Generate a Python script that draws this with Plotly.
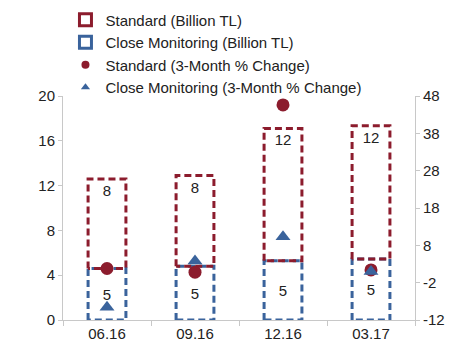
import plotly.graph_objects as go

# Quarter-end periods
periods = ["06.16", "09.16", "12.16", "03.17"]

# Loan volumes (Billion TL)
standard_bn = [8.0, 8.1, 11.8, 11.9]
close_monitoring_bn = [4.6, 4.8, 5.3, 5.45]

# 3-month percentage change
standard_pct = [1.8, 0.8, 45.6, 1.4]
close_monitoring_pct = [-8.6, 3.8, 10.3, 1.0]

# Axis ticks
left_ticks = [0, 4, 8, 12, 16, 20]
right_ticks = [-12, -2, 8, 18, 28, 38, 48]

RED = "#8c1c2d"
BLUE = "#3a639c"
TXT = "#222222"
AXIS = "#c8c8c8"
FONT = "Liberation Sans, Arial, sans-serif"

BAR_W = 0.43
xs = list(range(len(periods)))


def rect_path(bases, tops):
    px, py = [], []
    for i, (b, t) in enumerate(zip(bases, tops)):
        l, r = i - BAR_W / 2, i + BAR_W / 2
        px += [l, l, r, r, l, None]
        py += [b, t, t, b, b, None]
    return px, py


fig = go.Figure()

# Close monitoring stack segment (bottom), dashed outline
cx, cy = rect_path([0] * len(xs), close_monitoring_bn)
fig.add_trace(go.Scatter(
    x=cx, y=cy, mode="lines", showlegend=False, hoverinfo="skip",
    line=dict(color=BLUE, width=3, dash="7px,4px"),
))

# Standard stack segment (on top of close monitoring), dashed outline
tops = [c + s for c, s in zip(close_monitoring_bn, standard_bn)]
sx, sy = rect_path(close_monitoring_bn, tops)
fig.add_trace(go.Scatter(
    x=sx, y=sy, mode="lines", showlegend=False, hoverinfo="skip",
    line=dict(color=RED, width=3, dash="7px,4px"),
))

# Value labels inside each segment
fig.add_trace(go.Bar(
    x=xs, y=close_monitoring_bn, base=[0] * len(xs), width=BAR_W,
    marker=dict(color="rgba(0,0,0,0)", line=dict(width=0)),
    texttemplate="%{y:.0f}", textposition="inside", insidetextanchor="middle",
    textfont=dict(color=TXT, size=15, family=FONT), showlegend=False,
    hoverinfo="skip",
))
fig.add_trace(go.Bar(
    x=xs, y=standard_bn, base=close_monitoring_bn, width=BAR_W,
    marker=dict(color="rgba(0,0,0,0)", line=dict(width=0)),
    texttemplate="%{y:.0f}", textposition="inside", insidetextanchor="end",
    textfont=dict(color=TXT, size=15, family=FONT), showlegend=False,
    hoverinfo="skip",
))

# Percentage-change markers on the secondary axis
fig.add_trace(go.Scatter(
    x=xs, y=standard_pct, yaxis="y2", mode="markers", showlegend=False,
    name="Standard (3-Month % Change)",
    marker=dict(symbol="circle", color=RED, size=13),
))
fig.add_trace(go.Scatter(
    x=xs, y=close_monitoring_pct, yaxis="y2", mode="markers", showlegend=False,
    name="Close Monitoring (3-Month % Change)",
    marker=dict(symbol="triangle-up", color=BLUE, size=13),
))

# Legend entries with compact symbols
fig.add_trace(go.Bar(
    x=[None], y=[None], name="Standard (Billion TL)",
    marker=dict(color="white", line=dict(color=RED, width=3)),
))
fig.add_trace(go.Bar(
    x=[None], y=[None], name="Close Monitoring (Billion TL)",
    marker=dict(color="white", line=dict(color=BLUE, width=3)),
))
fig.add_trace(go.Scatter(
    x=[None], y=[None], mode="markers", name="Standard (3-Month % Change)",
    marker=dict(symbol="circle", color=RED, size=8),
))
fig.add_trace(go.Scatter(
    x=[None], y=[None], mode="markers",
    name="Close Monitoring (3-Month % Change)",
    marker=dict(symbol="triangle-up", color=BLUE, size=8),
))

fig.update_layout(
    width=462, height=347,
    margin=dict(l=63, r=47, t=96, b=27, autoexpand=False),
    paper_bgcolor="white", plot_bgcolor="white",
    font=dict(family=FONT, size=15, color=TXT),
    barmode="overlay",
    showlegend=True,
    legend=dict(
        x=0.007, y=1.413, xanchor="left", yanchor="top",
        font=dict(size=15, color=TXT, family=FONT),
        bgcolor="rgba(0,0,0,0)", itemwidth=30, tracegroupgap=0,
        traceorder="normal",
    ),
    xaxis=dict(
        range=[-0.5, 3.5], tickvals=xs, ticktext=periods, ticks="",
        showline=True, linecolor=AXIS, linewidth=1, showgrid=False,
        zeroline=False, tickfont=dict(size=15, color=TXT),
        minor=dict(tick0=0.5, dtick=1, ticks="outside", ticklen=5,
                   tickcolor=AXIS, showgrid=False),
    ),
    yaxis=dict(
        range=[0, 20], tickvals=left_ticks,
        ticktext=[str(v) for v in left_ticks], ticks="outside",
        ticklen=4, tickcolor=AXIS, showline=True, linecolor=AXIS,
        showgrid=False, zeroline=False, tickfont=dict(size=15, color=TXT),
    ),
    yaxis2=dict(
        range=[-12, 48], tickvals=right_ticks,
        ticktext=[str(v) for v in right_ticks],
        overlaying="y", side="right", ticks="outside", ticklen=4,
        tickcolor=AXIS, showline=True, linecolor=AXIS, showgrid=False,
        zeroline=False, tickfont=dict(size=15, color=TXT),
    ),
)

fig.write_html("out.html")
